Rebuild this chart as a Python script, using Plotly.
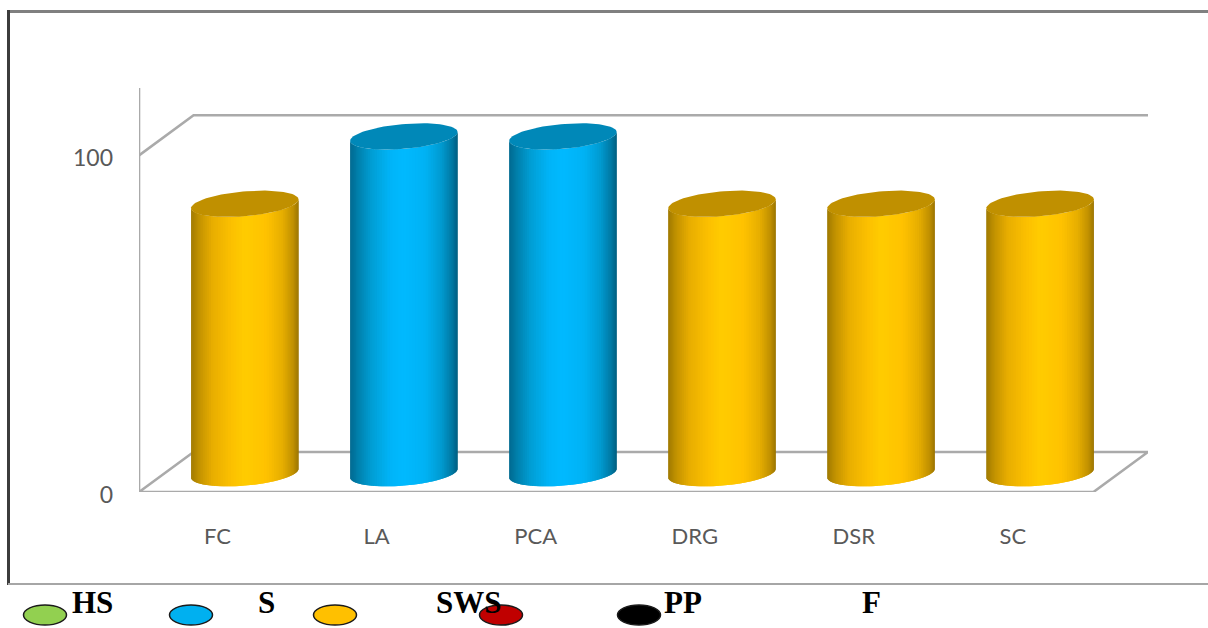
import math
import plotly.graph_objects as go

# Chart data
categories = ["FC", "LA", "PCA", "DRG", "DSR", "SC"]
values = [80, 100, 100, 80, 80, 80]
series_of_bar = ["SWS", "S", "S", "SWS", "SWS", "SWS"]
y_ticks = [0, 100]

legend_labels = ["HS", "S", "SWS", "PP", "F"]
legend_colors = ["#92d050", "#00b0f0", "#ffc000", "#c00000", "#000000"]

# Shading across a cylinder, from its left edge (-1) to its right edge (+1)
shade_pos = [-1, -0.85, -0.6, -0.25, 0, 0.4, 0.7, 0.9, 1]
shades = {
    "SWS": ["#a07a00", "#c29200", "#e8ae00", "#fcc000", "#ffcc00", "#ffc200", "#e6ae00", "#c09000", "#9a7400"],
    "S": ["#006a90", "#0080ac", "#009ed4", "#00b4f8", "#00baff", "#00b2f4", "#009ad0", "#0078a2", "#005f80"],
}
cap_colors = {"SWS": "#c09000", "S": "#0088b8"}

# Oblique projection of the 3-D frame, in axis units
DEPTH_X = 0.343
DEPTH_Y = 11.9
BASE_Y = 5.6
BAR_SHIFT_X = 0.165
RADIUS_X = 0.338
ELLIPSE_Y = 3.7
TILT_Y = 1.3
AXIS_COLOR = "#aaaaaa"
STRIPS = 60

WIDTH, HEIGHT = 1208, 628
M_L, M_R, M_T, M_B = 139, 60, 88, 136
X_RANGE = [-0.5, 5 + 0.5 + DEPTH_X]
Y_RANGE = [0, 120]


def hex_rgb(h):
    return [int(h[i:i + 2], 16) for i in (1, 3, 5)]


def shade_at(stops, u):
    for k in range(len(shade_pos) - 1):
        if u <= shade_pos[k + 1]:
            f = (u - shade_pos[k]) / (shade_pos[k + 1] - shade_pos[k])
            a, b = hex_rgb(stops[k]), hex_rgb(stops[k + 1])
            return "rgb({},{},{})".format(*[round(p + (q - p) * f) for p, q in zip(a, b)])
    return stops[-1]


def front_arc(level, u):
    return level + TILT_Y * u - ELLIPSE_Y * math.sqrt(max(0.0, 1 - u * u))


fig = go.Figure()


def frame_line(xs, ys):
    fig.add_trace(go.Scatter(x=xs, y=ys, mode="lines", cliponaxis=False, hoverinfo="skip",
                             line=dict(color=AXIS_COLOR, width=2.6), showlegend=False))


x0, x1 = -0.5, 5.5
frame_line([x0, x1, x1 + DEPTH_X, x0 + DEPTH_X, x0], [0, 0, DEPTH_Y, DEPTH_Y, 0])
frame_line([x0, x0], [0, Y_RANGE[1]])
frame_line([x0, x0 + DEPTH_X, x1 + DEPTH_X], [100, 100 + DEPTH_Y, 100 + DEPTH_Y])

# Each cylinder: shaded vertical strips plus a flat elliptical cap
for i, (cat, val, ser) in enumerate(zip(categories, values, series_of_bar)):
    cx = i + BAR_SHIFT_X
    low, top = BASE_Y, val + BASE_Y
    for s in range(STRIPS):
        u0 = -math.cos(math.pi * s / STRIPS)
        u1 = -math.cos(math.pi * (s + 1) / STRIPS)
        u_next = -math.cos(math.pi * min(s + 2, STRIPS) / STRIPS)
        us = [u0, u1, u_next]
        xs = [cx + RADIUS_X * u for u in us]
        xs += xs[::-1]
        ys = [front_arc(low, u) for u in us] + [front_arc(top, u) for u in us[::-1]]
        color = shade_at(shades[ser], (u0 + u1) / 2)
        fig.add_trace(go.Scatter(x=xs, y=ys, mode="lines", fill="toself", fillcolor=color,
                                 line=dict(width=0, color=color), hoverinfo="skip",
                                 cliponaxis=False, showlegend=False))
    n = 90
    angles = [2 * math.pi * k / n for k in range(n + 1)]
    fig.add_trace(go.Scatter(
        x=[cx + RADIUS_X * math.cos(t) for t in angles],
        y=[top + TILT_Y * math.cos(t) + ELLIPSE_Y * math.sin(t) for t in angles],
        mode="lines", fill="toself", fillcolor=cap_colors[ser],
        line=dict(width=0, color=cap_colors[ser]), name=cat, cliponaxis=False, showlegend=False,
        hovertemplate=f"{cat}: {val}<extra></extra>"))


def px(x):
    return (x - M_L) / (WIDTH - M_L - M_R)


def py(y):
    return (HEIGHT - M_B - y) / (HEIGHT - M_T - M_B)


def rule(xa, ya, xb, yb, color, width):
    return dict(type="line", xref="paper", yref="paper", x0=px(xa), y0=py(ya), x1=px(xb), y1=py(yb),
                line=dict(color=color, width=width))


shapes = [
    rule(8, 11.5, 1208, 11.5, "#808080", 3),
    rule(8.5, 10, 8.5, 585, "#3c3c3c", 3),
    rule(8, 584, 1208, 584, "#a6a6a6", 2),
]

legend_marker_x = [45, 191, 335, 501, 639]
for cx_px, col in zip(legend_marker_x, legend_colors):
    shapes.append(dict(type="circle", xref="paper", yref="paper",
                       x0=px(cx_px - 21.5), x1=px(cx_px + 21.5), y0=py(625), y1=py(605),
                       fillcolor=col, line=dict(color="#1a1a1a", width=1.5)))

legend_text_x = [92, 266.5, 468, 682.5, 871]
annotations = [
    dict(text=f"<b>{t}</b>", xref="paper", yref="paper", x=px(xp), y=py(602), showarrow=False,
         xanchor="center", yanchor="middle",
         font=dict(family="Liberation Serif", size=31, color="#000000"))
    for t, xp in zip(legend_labels, legend_text_x)
]

fig.update_layout(
    width=WIDTH, height=HEIGHT,
    margin=dict(l=M_L, r=M_R, t=M_T, b=M_B, autoexpand=False),
    paper_bgcolor="#ffffff", plot_bgcolor="#ffffff",
    showlegend=False, shapes=shapes, annotations=annotations,
    xaxis=dict(range=X_RANGE, tickmode="array", tickvals=list(range(len(categories))),
               ticktext=categories, showgrid=False, zeroline=False, showline=False, ticks="",
               tickfont=dict(family="Lato", size=22, color="#595959"), ticklabelstandoff=29,
               ticklabelshift=-1),
    yaxis=dict(range=Y_RANGE, tickmode="array", tickvals=y_ticks, showgrid=False, zeroline=False,
               showline=False, ticks="", tickfont=dict(family="Lato", size=23, color="#595959"),
               ticklabelstandoff=25, ticklabelshift=3),
)

fig.write_html("out.html")
